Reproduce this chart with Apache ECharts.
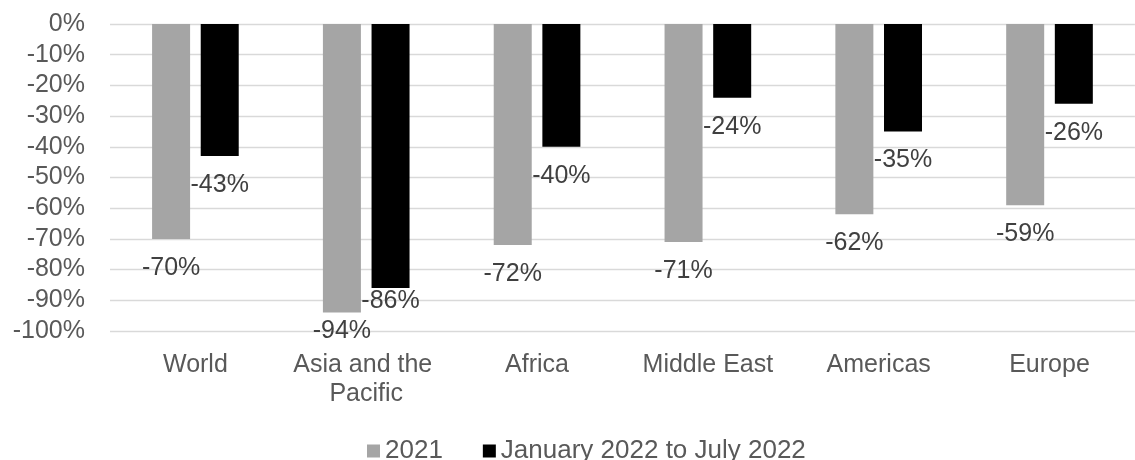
<!DOCTYPE html>
<html>
<head>
<meta charset="utf-8">
<script src="https://cdn.jsdelivr.net/npm/echarts@6/dist/echarts.min.js"></script>
<style>
html,body{margin:0;padding:0;background:#fff;}
#chart{width:1135px;height:460px;}
</style>
</head>
<body>
<div id="chart"></div>
<script>
const categories = ['World', 'Asia and the Pacific', 'Africa', 'Middle East', 'Americas', 'Europe'];
const seriesNames = ['2021', 'January 2022 to July 2022'];
const values2021 = [-70, -94, -72, -71, -62, -59];
const values2022 = [-43, -86, -40, -24, -35, -26];
const yTicks = { min: -100, max: 0, interval: 10 };

const FONT = '"Liberation Sans", Arial, sans-serif';
const labelDist2021 = [14, 4, 14, 14, 14, 14];
const labelDist2022 = [14, -2, 14, 14, 14, 14];

function makeData(vals, dists) {
  return vals.map((v, i) => ({
    value: v,
    label: { distance: dists[i] }
  }));
}

const labelBase = {
  show: true,
  position: 'bottom',
  formatter: p => p.value + '%',
  color: '#404040',
  fontSize: 25,
  lineHeight: 30,
  fontFamily: FONT
};

const chart = echarts.init(document.getElementById('chart'), null, { renderer: 'canvas' });
chart.setOption({
  animation: false,
  backgroundColor: '#fff',
  textStyle: { fontFamily: FONT },
  grid: { left: 110, right: 0, top: 24, bottom: 129, containLabel: false },
  legend: {
    data: seriesNames,
    top: 431,
    left: 362,
    itemWidth: 13,
    itemHeight: 13,
    itemGap: 40,
    icon: 'rect',
    textStyle: { color: '#595959', fontSize: 26, lineHeight: 30, fontFamily: FONT }
  },
  xAxis: {
    type: 'category',
    data: categories,
    position: 'bottom',
    axisLine: { show: false },
    axisTick: { show: false },
    axisLabel: {
      interval: 0,
      margin: 20,
      color: '#595959',
      fontSize: 25,
      lineHeight: 29,
      fontFamily: FONT,
      width: 165,
      overflow: 'break'
    }
  },
  yAxis: {
    type: 'value',
    min: yTicks.min,
    max: yTicks.max,
    interval: yTicks.interval,
    axisLine: { show: false },
    axisTick: { show: false },
    axisLabel: {
      formatter: '{value}%',
      color: '#595959',
      fontSize: 25,
      margin: 25,
      fontFamily: FONT
    },
    splitLine: { lineStyle: { color: '#D9D9D9', width: 1.3 } }
  },
  series: [
    {
      name: seriesNames[0],
      type: 'bar',
      data: makeData(values2021, labelDist2021),
      barWidth: 38,
      barGap: '28%',
      itemStyle: { color: '#A5A5A5' },
      label: labelBase
    },
    {
      name: seriesNames[1],
      type: 'bar',
      data: makeData(values2022, labelDist2022),
      barWidth: 38,
      barGap: '28%',
      itemStyle: { color: '#000000' },
      label: labelBase
    }
  ]
});
</script>
</body>
</html>
